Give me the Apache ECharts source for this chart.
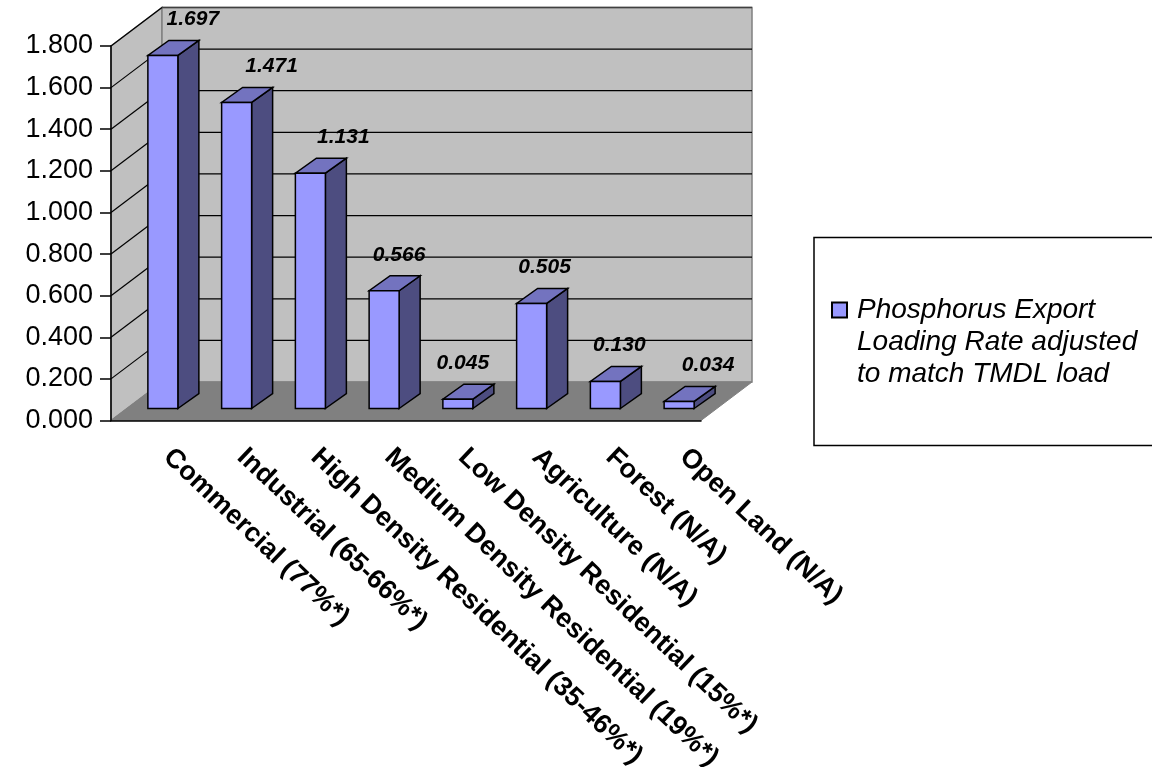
<!DOCTYPE html>
<html>
<head>
<meta charset="utf-8">
<style>html,body{margin:0;padding:0;background:#fff}#main{width:1163px;height:767px}</style>
<script src="https://cdn.jsdelivr.net/npm/echarts@6/dist/echarts.min.js"></script>
</head>
<body>
<div id="main"></div>
<script>
const categories = ['Commercial (77%*)', 'Industrial (65-66%*)', 'High Density Residential (35-46%*)', 'Medium Density Residential (19%*)', 'Low Density Residential (15%*)', 'Agriculture (N/A)', 'Forest (N/A)', 'Open Land (N/A)']
const values = [1.697, 1.471, 1.131, 0.566, 0.045, 0.505, 0.130, 0.034]
const seriesName = 'Phosphorus Export\nLoading Rate adjusted\nto match TMDL load'
const gridValues = [0.2, 0.4, 0.6, 0.8, 1.0, 1.2, 1.4, 1.6, 1.8]
// data labels sit at uneven spots to the right of each bar
const labelShift = [30, 35, 33, 15, 5, 13, 14, 29]

const font = '"Liberation Sans", Arial, sans-serif'
const wallDepth = [51, -38.5]
const barInset = [15, -12]
const barDepth = [21, -15]
const barWidth = 30

function poly(points, fill, stroke, lineWidth) {
  return {
    type: 'polygon',
    shape: { points: points },
    style: { fill: fill, stroke: stroke, lineWidth: lineWidth }
  }
}

function line(a, b, color, width) {
  return {
    type: 'line',
    shape: { x1: a[0], y1: a[1], x2: b[0], y2: b[1] },
    style: { stroke: color, lineWidth: width }
  }
}

function renderRoom(params, api) {
  const cs = params.coordSys
  const left = cs.x, right = cs.x + cs.width, bottom = cs.y + cs.height, top = cs.y
  const dx = wallDepth[0], dy = wallDepth[1]
  const children = [
    poly([[left, top], [left + dx, top + dy], [left + dx, bottom + dy], [left, bottom]], '#c0c0c0', '#808080', 1.5),
    poly([[left + dx, top + dy], [right + dx, top + dy], [right + dx, bottom + dy], [left + dx, bottom + dy]], '#c0c0c0', '#808080', 1.5),
    poly([[left, bottom], [right, bottom], [right + dx, bottom + dy], [left + dx, bottom + dy]], '#808080', '#808080', 1)
  ]
  gridValues.forEach(function (v) {
    const y = api.coord([0, v])[1]
    children.push(line([left, y], [left + dx, y + dy], '#000', 1.2))
    if (v < 1.8) children.push(line([left + dx, y + dy], [right + dx, y + dy], '#000', 1.2))
  })
  children.push(line([left + dx, top + dy], [right + dx, top + dy], '#404040', 1.5))
  return { type: 'group', children: children }
}

function renderBar(params, api) {
  const i = api.value(0)
  const v = api.value(1)
  const base = api.coord([i, 0])
  const head = api.coord([i, v])
  const x0 = base[0] + barInset[0] - barWidth / 2
  const x1 = x0 + barWidth
  const y0 = base[1] + barInset[1]
  const y1 = head[1] + barInset[1]
  const dx = barDepth[0], dy = barDepth[1]
  return {
    type: 'group',
    children: [
      poly([[x1, y0], [x1 + dx, y0 + dy], [x1 + dx, y1 + dy], [x1, y1]], '#4d4d80', '#000', 1.5),
      poly([[x0, y1], [x1, y1], [x1 + dx, y1 + dy], [x0 + dx, y1 + dy]], '#7373bf', '#000', 1.5),
      poly([[x0, y0], [x1, y0], [x1, y1], [x0, y1]], '#9999ff', '#000', 1.5),
      {
        type: 'text',
        z2: 10,
        style: {
          x: base[0] + barInset[0] + labelShift[i],
          y: y1 - 36,
          text: v.toFixed(3),
          align: 'center',
          verticalAlign: 'middle',
          fill: '#000',
          font: 'italic bold 21px ' + font
        }
      }
    ]
  }
}

const chart = echarts.init(document.getElementById('main'), null, { renderer: 'canvas' })
chart.setOption({
  animation: false,
  backgroundColor: '#fff',
  grid: { left: 111, top: 46, width: 590, height: 374.5, outerBoundsMode: 'none' },
  xAxis: {
    type: 'category',
    data: categories,
    z: 5,
    axisLine: { lineStyle: { color: '#000', width: 1.5 } },
    axisTick: { alignWithLabel: false, length: 10, lineStyle: { color: '#000', width: 1.5 } },
    axisLabel: {
      interval: 0,
      rotate: -43.5,
      margin: 14,
      padding: [0, 0, 0, 27],
      color: '#000',
      fontFamily: font,
      fontWeight: 'bold',
      fontSize: 27,
      hideOverlap: false
    }
  },
  yAxis: {
    type: 'value',
    min: 0,
    max: 1.8,
    interval: 0.2,
    z: 5,
    splitLine: { show: false },
    axisLine: { show: true, lineStyle: { color: '#000', width: 1.5 } },
    axisTick: { show: true, length: 11, lineStyle: { color: '#000', width: 1.5 } },
    axisLabel: {
      margin: 18,
      color: '#000',
      fontFamily: font,
      fontSize: 27,
      formatter: function (v) { return v.toFixed(3) }
    }
  },
  legend: {
    data: [seriesName],
    // blank lines ahead of the name put the swatch level with the first text line
    formatter: function (name) { return '\n\n' + name },
    left: 831,
    top: 230,
    orient: 'vertical',
    icon: 'rect',
    itemWidth: 15,
    itemHeight: 15,
    itemGap: 0,
    selectedMode: false,
    padding: 0,
    textStyle: {
      color: '#000',
      fontFamily: font,
      fontStyle: 'italic',
      fontSize: 28,
      lineHeight: 32,
      padding: [0, 0, 0, 5]
    }
  },
  graphic: [{
    type: 'polyline',
    shape: { points: [[1152, 237.5], [814, 237.5], [814, 445.5], [1152, 445.5]] },
    style: { stroke: '#000', lineWidth: 1.5, fill: 'none' }
  }],
  series: [
    {
      type: 'custom',
      z: 2,
      silent: true,
      clip: false,
      renderItem: renderRoom,
      data: [[0, 0]],
      encode: { x: 0, y: 1 },
      legendHoverLink: false
    },
    {
      type: 'custom',
      name: seriesName,
      z: 6,
      clip: false,
      itemStyle: { color: '#9999ff', borderColor: '#000', borderWidth: 1.5 },
      renderItem: renderBar,
      data: values.map(function (v, i) { return [i, v] }),
      encode: { x: 0, y: 1 }
    }
  ]
})
</script>
</body>
</html>
